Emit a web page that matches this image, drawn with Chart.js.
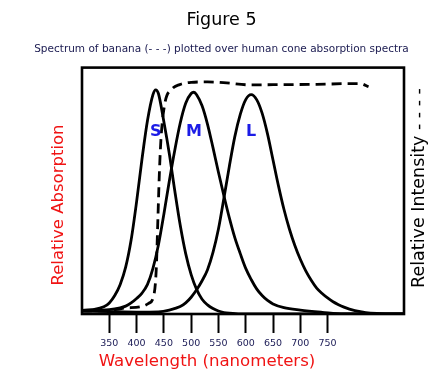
<!DOCTYPE html>
<html lang="en">
<head>
<meta charset="UTF-8">
<title>Figure 5</title>
<script src="https://cdn.jsdelivr.net/npm/chart.js"></script>
<style>
  html, body { margin: 0; padding: 0; background: #fff; }
  canvas { display: block; }
</style>
</head>
<body>
<canvas id="chart" width="443" height="377"></canvas>
<script>
// values (wavelength in nm, relative absorption / intensity 0..1)
const sWl  = [300, 320, 340, 350, 360, 370, 380, 390, 400, 410, 420, 430, 435, 440, 450, 460, 470, 480, 490, 500, 510, 520, 530, 540, 550, 560, 570, 590, 890];
const sAbs = [0.015, 0.018, 0.029, 0.045, 0.075, 0.120, 0.190, 0.300, 0.455, 0.630, 0.785, 0.890, 0.910, 0.895, 0.780, 0.650, 0.500, 0.360, 0.245, 0.160, 0.100, 0.060, 0.037, 0.022, 0.012, 0.006, 0.003, 0, 0];

const mWl  = [300, 350, 370, 380, 390, 400, 410, 420, 430, 440, 450, 460, 470, 480, 490, 500, 505, 510, 520, 530, 540, 550, 560, 570, 580, 590, 600, 610, 620, 630, 640, 650, 670, 700, 740, 780, 890];
const mAbs = [0.015, 0.018, 0.025, 0.032, 0.045, 0.063, 0.085, 0.120, 0.185, 0.280, 0.405, 0.540, 0.665, 0.775, 0.855, 0.895, 0.900, 0.890, 0.845, 0.770, 0.675, 0.575, 0.480, 0.390, 0.310, 0.245, 0.185, 0.140, 0.102, 0.075, 0.055, 0.041, 0.026, 0.016, 0.007, 0, 0];

const lWl  = [300, 350, 400, 440, 460, 480, 490, 500, 510, 520, 530, 540, 550, 560, 570, 580, 590, 600, 610, 620, 630, 640, 650, 660, 670, 680, 690, 700, 710, 720, 730, 740, 750, 760, 770, 780, 790, 800, 820, 840, 860, 890];
const lAbs = [0.012, 0.010, 0.008, 0.009, 0.016, 0.030, 0.045, 0.068, 0.098, 0.135, 0.180, 0.250, 0.345, 0.470, 0.600, 0.720, 0.810, 0.870, 0.890, 0.870, 0.815, 0.730, 0.625, 0.520, 0.425, 0.345, 0.278, 0.222, 0.175, 0.137, 0.105, 0.083, 0.065, 0.050, 0.038, 0.028, 0.020, 0.014, 0.006, 0.002, 0, 0];

const bananaWl  = [300, 350, 378, 409, 422, 431, 436, 439, 442, 445, 452, 464, 479, 500, 530, 565, 607, 668, 730, 791, 810, 825];
const bananaInt = [0.012, 0.014, 0.024, 0.030, 0.043, 0.070, 0.179, 0.382, 0.585, 0.721, 0.857, 0.911, 0.931, 0.940, 0.942, 0.938, 0.930, 0.931, 0.932, 0.935, 0.935, 0.922];

const tickValues = [350, 400, 450, 500, 550, 600, 650, 700, 750];
const coneNames = ['S', 'M', 'L'];

const font = 'DejaVu Sans';

function pts(xs, ys) {
    return xs.map((x, i) => ({x: x, y: ys[i]}));
}

function peakOf(xs, ys) {
    let best = 0;
    ys.forEach((v, i) => { if (v > ys[best]) best = i; });
    return xs[best];
}

const conePeaks = [peakOf(sWl, sAbs), peakOf(mWl, mAbs), peakOf(lWl, lAbs)];

// frame around the plot, cone letters and the three axis captions
const decor = {
    id: 'decor',
    afterDraw(chart) {
        const {ctx, chartArea, scales} = chart;
        ctx.save();
        ctx.lineWidth = 2.6;
        ctx.strokeStyle = '#000';
        ctx.strokeRect(chartArea.left, chartArea.top, chartArea.width, chartArea.height);

        ctx.fillStyle = '#1c1ce6';
        ctx.font = 'bold 16px "' + font + '"';
        ctx.textAlign = 'center';
        ctx.textBaseline = 'middle';
        coneNames.forEach((n, i) => {
            ctx.fillText(n, scales.x.getPixelForValue(conePeaks[i]), scales.y.getPixelForValue(0.74));
        });

        ctx.fillStyle = '#f01414';
        ctx.font = '16.6px "' + font + '"';
        ctx.fillText('Wavelength (nanometers)', 207, 362);

        ctx.save();
        ctx.translate(59, 205);
        ctx.rotate(-Math.PI / 2);
        ctx.font = '16.5px "' + font + '"';
        ctx.fillText('Relative Absorption', 0, 0);
        ctx.restore();

        ctx.save();
        ctx.translate(419, 188);
        ctx.rotate(-Math.PI / 2);
        ctx.fillStyle = '#000';
        ctx.font = '17.5px "' + font + '"';
        ctx.fillText('Relative Intensity - - - -', 0, 0);
        ctx.restore();

        ctx.restore();
    }
};

const solid = {borderColor: '#000', borderWidth: 2.8, pointRadius: 0, cubicInterpolationMode: 'monotone', fill: false};

new Chart(document.getElementById('chart'), {
    type: 'line',
    data: {
        datasets: [
            Object.assign({label: 'S', data: pts(sWl, sAbs)}, solid),
            Object.assign({label: 'M', data: pts(mWl, mAbs)}, solid),
            Object.assign({label: 'L', data: pts(lWl, lAbs)}, solid),
            Object.assign({label: 'banana', data: pts(bananaWl, bananaInt), borderDash: [10, 6]}, solid)
        ]
    },
    options: {
        responsive: false,
        animation: false,
        layout: {padding: 0},
        plugins: {
            legend: {display: false},
            tooltip: {enabled: false},
            title: {
                display: true,
                text: 'Figure 5',
                color: '#000',
                font: {family: font, size: 17.5, weight: 'normal'},
                padding: {top: 10, bottom: 11}
            },
            subtitle: {
                display: true,
                text: 'Spectrum of banana (- - -) plotted over human cone absorption spectra',
                color: '#1a1a50',
                font: {family: font, size: 10.5},
                padding: {top: 1, bottom: 12}
            }
        },
        scales: {
            x: {
                type: 'linear',
                min: 300,
                max: 890,
                afterBuildTicks: s => { s.ticks = tickValues.map(v => ({value: v})); },
                afterFit: s => { s.height = 63; },
                border: {display: false},
                grid: {drawOnChartArea: false, drawTicks: true, tickLength: 19, tickWidth: 2, tickColor: '#000'},
                ticks: {color: '#1a1a55', font: {family: font, size: 9.5}, padding: 5, maxRotation: 0}
            },
            y: {
                min: 0,
                max: 1,
                afterFit: s => { s.width = 82; },
                border: {display: false},
                grid: {display: false},
                ticks: {display: false}
            },
            y2: {
                position: 'right',
                display: true,
                min: 0,
                max: 1,
                afterFit: s => { s.width = 39; },
                border: {display: false},
                grid: {display: false},
                ticks: {display: false}
            }
        }
    },
    plugins: [decor]
});
</script>
</body>
</html>
